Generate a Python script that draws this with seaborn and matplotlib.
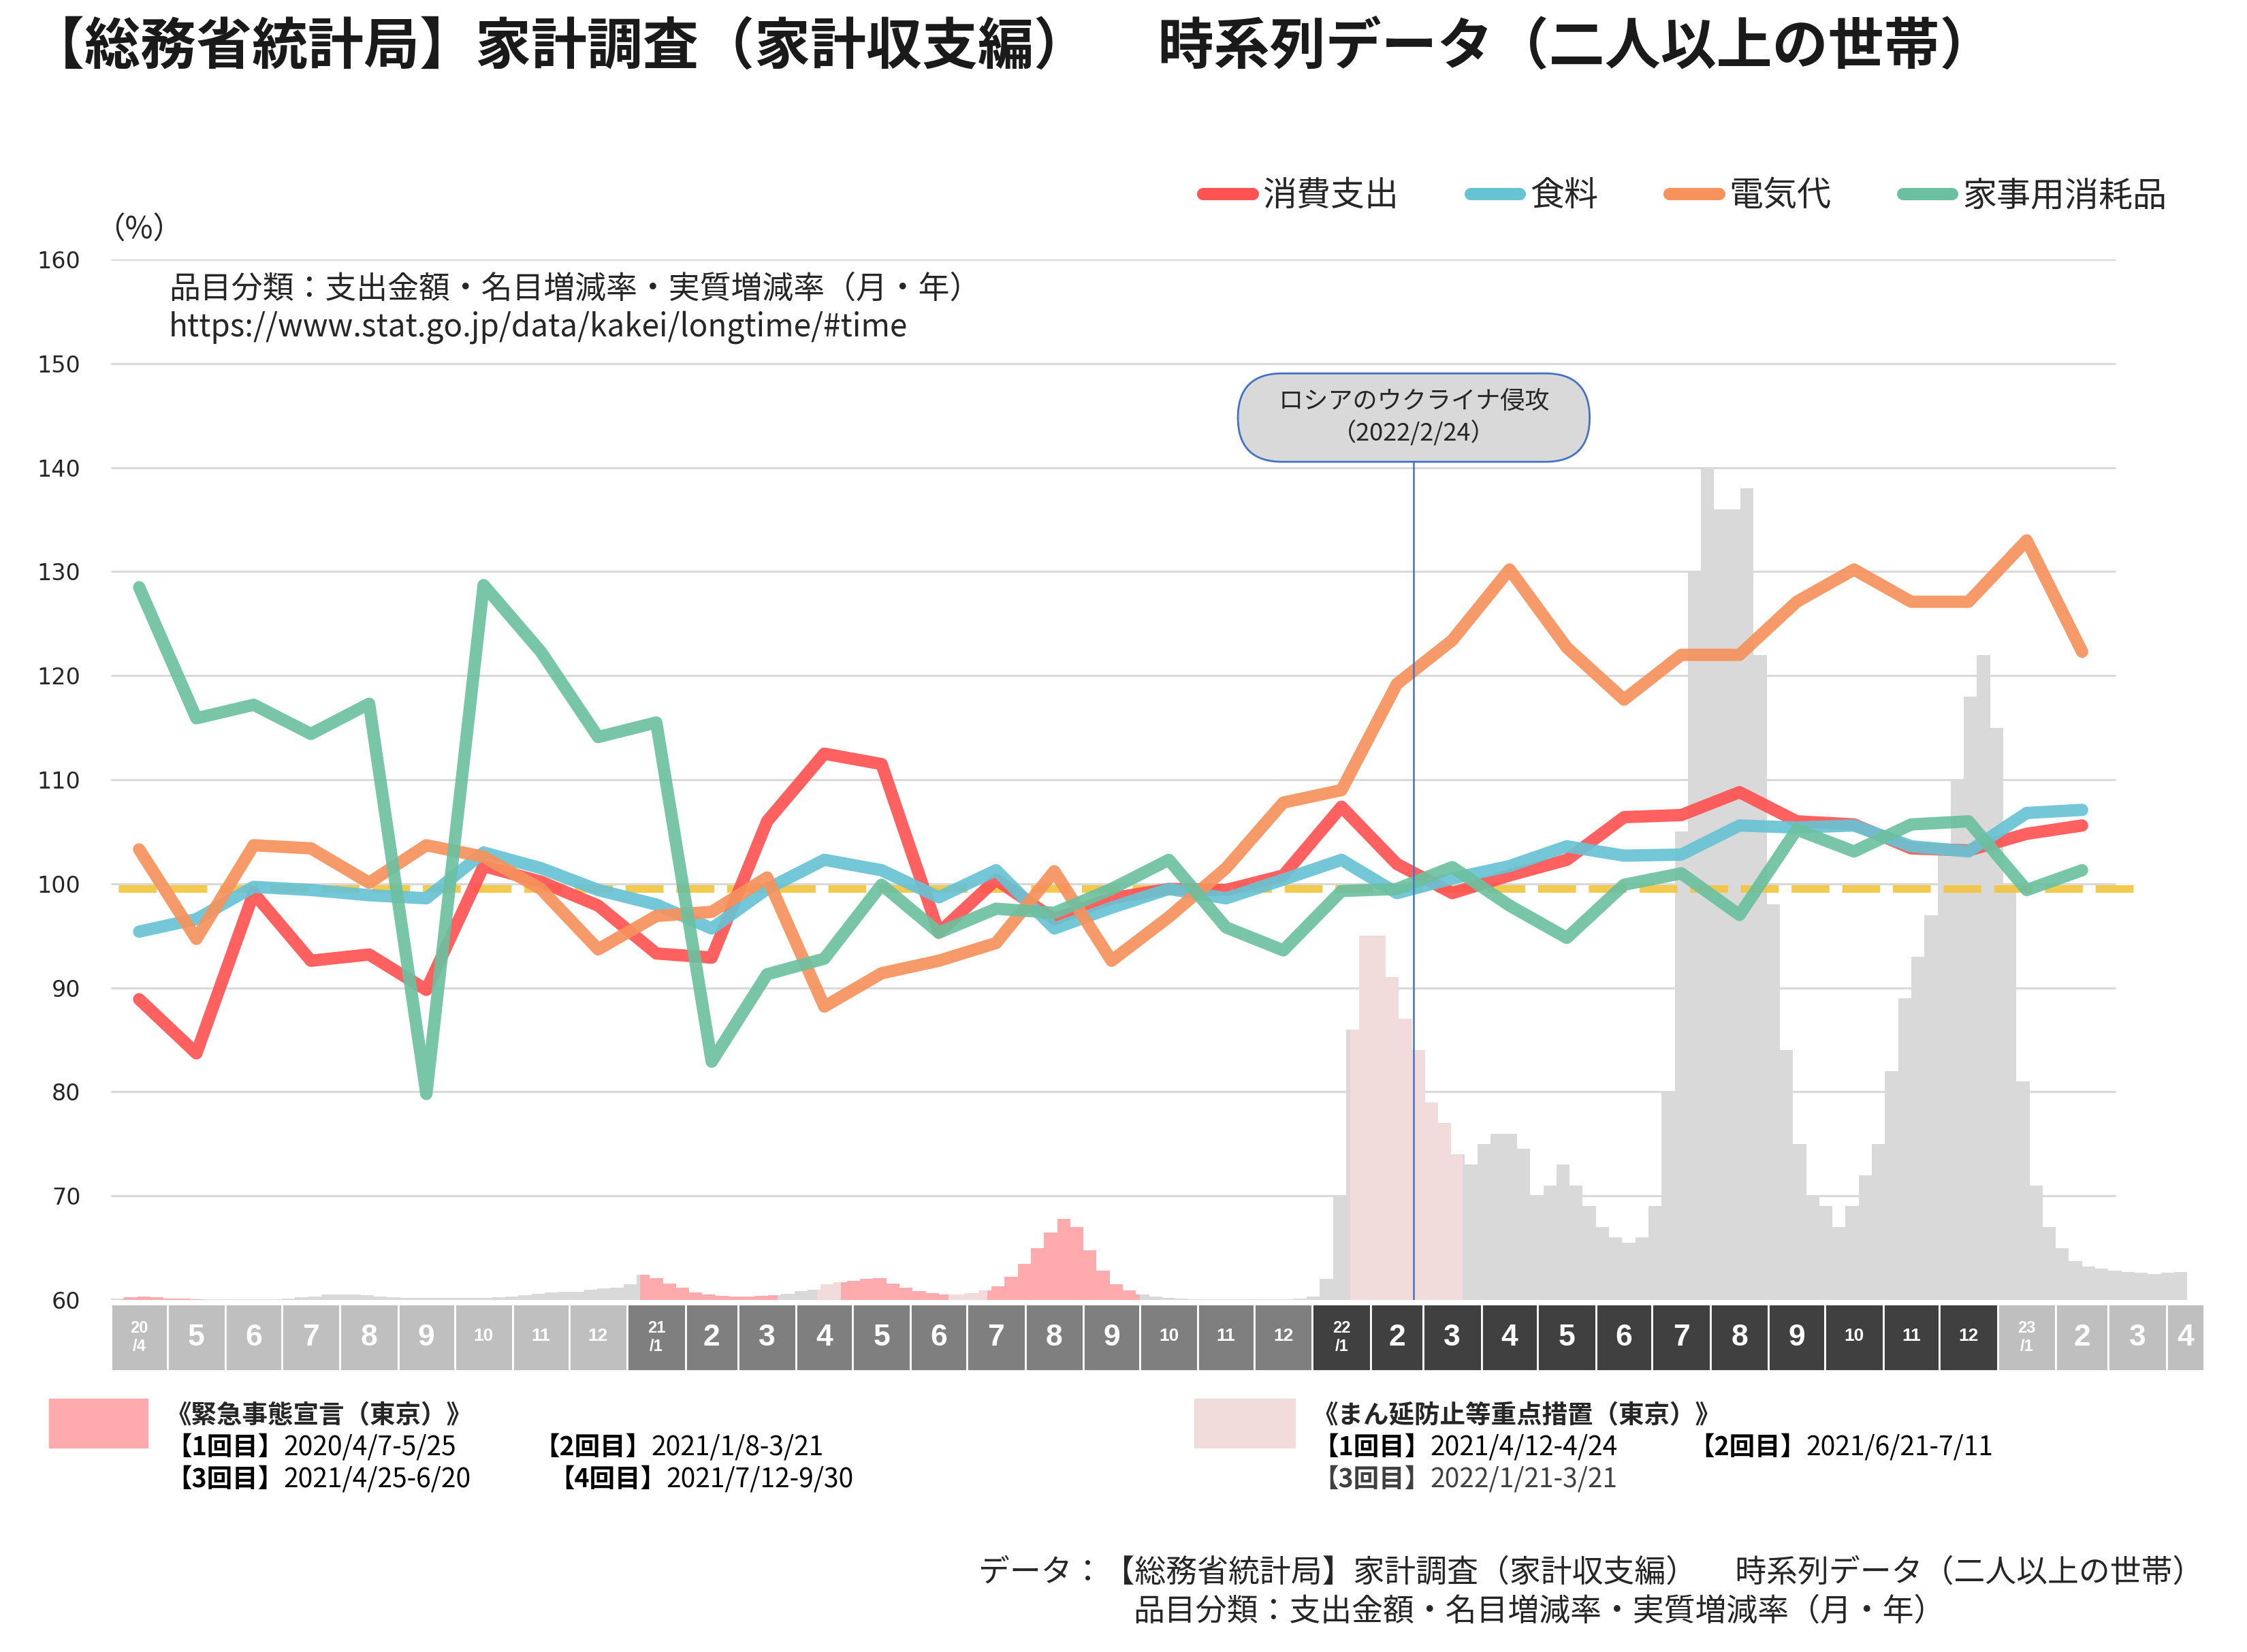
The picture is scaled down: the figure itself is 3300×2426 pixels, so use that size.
import datetime as dt
import numpy as np
import pandas as pd
import matplotlib
matplotlib.use("Agg")
import matplotlib.pyplot as plt
from matplotlib.lines import Line2D
from matplotlib.patches import Rectangle
import seaborn as sns

# ---------------- data ----------------
START = dt.date(2020, 4, 1)

line_months = pd.period_range("2020-04", "2023-02", freq="M")
series_names = ["消費支出", "食料", "電気代", "家事用消耗品"]

consumption = [88.9, 83.7, 99.1, 92.6, 93.2, 89.8, 101.7, 100.2, 97.9, 93.3, 92.9, 106.0,
               112.5, 111.5, 95.3, 100.4, 96.6, 98.6, 99.5, 99.4, 100.8, 107.4, 101.9, 99.1,
               100.8, 102.3, 106.4, 106.6, 108.8, 106.0, 105.7, 103.4, 103.2, 104.8, 105.6]
food = [95.4, 96.6, 99.7, 99.4, 98.9, 98.6, 103.0, 101.5, 99.4, 98.0, 95.7, 99.5,
        102.3, 101.3, 98.7, 101.3, 95.7, 97.7, 99.5, 98.6, 100.4, 102.3, 99.1, 100.5,
        101.7, 103.6, 102.7, 102.8, 105.6, 105.4, 105.6, 103.6, 103.1, 106.8, 107.1]
electricity = [103.3, 94.7, 103.7, 103.4, 100.1, 103.7, 102.6, 99.5, 93.7, 96.9, 97.3, 100.6,
               88.2, 91.4, 92.6, 94.3, 101.2, 92.6, 96.8, 101.5, 107.8, 109.0, 119.2, 123.4,
               130.2, 122.7, 117.7, 122.0, 122.0, 127.1, 130.2, 127.1, 127.1, 133.0, 122.3]
household = [128.5, 115.9, 117.2, 114.4, 117.3, 79.8, 128.7, 122.3, 114.1, 115.5, 82.9, 91.3,
             92.8, 99.9, 95.3, 97.6, 97.2, 99.5, 102.3, 95.8, 93.6, 99.3, 99.5, 101.6,
             97.9, 94.8, 99.9, 101.0, 97.0, 105.2, 103.1, 105.7, 106.0, 99.4, 101.3]

line_colors = {"消費支出": "#FF5252", "食料": "#67C3D4",
               "電気代": "#F7925C", "家事用消耗品": "#6CC0A0"}

# background bars: new-case level per week (height above the 60 baseline), weeks from 2020-04-01
weekly_cases = [
    0.15, 0.25, 0.3, 0.25, 0.15, 0.1, 0.05, 0.03, 0.03, 0.03,
    0.05, 0.05, 0.08, 0.15, 0.25, 0.35, 0.5, 0.55, 0.5, 0.45,
    0.35, 0.28, 0.22, 0.2, 0.18, 0.2, 0.2, 0.22, 0.22, 0.25,
    0.3, 0.45, 0.6, 0.75, 0.8, 0.8, 1.0, 1.1, 1.2, 1.5,
    2.4, 2.1, 1.6, 1.2, 0.75, 0.5, 0.4, 0.35, 0.35, 0.4,
    0.45, 0.6, 0.85, 1.0, 1.5, 1.7, 1.8, 2.0, 2.1, 1.6,
    1.2, 0.85, 0.65, 0.55, 0.55, 0.65, 0.9, 1.3, 2.2, 3.5,
    5.0, 6.5, 7.8, 7.0, 4.8, 2.8, 1.5, 0.9, 0.5, 0.3,
    0.2, 0.1, 0.06, 0.05, 0.05, 0.05, 0.05, 0.05, 0.06, 0.08,
    0.12, 0.3, 2.0, 10.0, 26.0, 35.0, 35.0, 31.0, 27.0, 24.0,
    19.0, 17.0, 14.0, 13.0, 15.0, 16.0, 16.0, 14.5, 10.0, 11.0,
    13.0, 11.0, 9.0, 7.0, 6.0, 5.5, 6.0, 9.0, 20.0, 45.0,
    70.0, 80.0, 76.0, 76.0, 78.0, 62.0, 38.0, 24.0, 15.0, 10.0,
    9.0, 7.0, 9.0, 12.0, 15.0, 22.0, 29.0, 33.0, 37.0, 43.0,
    50.0, 58.0, 62.0, 55.0, 40.0, 21.0, 11.0, 7.0, 5.0, 3.7,
    3.2, 3.0, 2.8, 2.7, 2.6, 2.5, 2.6, 2.7,
]

emergency_periods = [("2020-04-07", "2020-05-25"), ("2021-01-08", "2021-03-21"),
                     ("2021-04-25", "2021-06-20"), ("2021-07-12", "2021-09-30")]
semi_periods = [("2021-04-12", "2021-04-24"), ("2021-06-21", "2021-07-11"),
                ("2022-01-21", "2022-03-21")]

band_months = pd.period_range("2020-04", "2023-04", freq="M")
year_colors = {2020: "#BFBFBF", 2021: "#7F7F7F", 2022: "#404040", 2023: "#BFBFBF"}

invasion_date = "2022-02-24"
baseline_value = 99.5
yticks = list(range(60, 161, 10))

title = "【総務省統計局】家計調査（家計収支編）　 時系列データ（二人以上の世帯）"
subtitle1 = "品目分類：支出金額・名目増減率・実質増減率（月・年）"
subtitle2 = "https://www.stat.go.jp/data/kakei/longtime/#time"
footer1 = "データ：【総務省統計局】家計調査（家計収支編）　 時系列データ（二人以上の世帯）"
footer2 = "品目分類：支出金額・名目増減率・実質増減率（月・年）"

# ---------------- helpers ----------------
W, H = 3300, 2426


def dnum(s):
    return (pd.Timestamp(s).date() - START).days


def fx(px):
    return px / W


def fy(py):
    return 1 - py / H


def day_cat(d):
    for a, b in emergency_periods:
        if dnum(a) <= d <= dnum(b):
            return "em"
    for a, b in semi_periods:
        if dnum(a) <= d <= dnum(b):
            return "semi"
    return "none"


cat_colors = {"em": "#FFABAD", "semi": "#F2DCDB", "none": "#D9D9D9"}

X_END = 1115
GRID_END = dnum("2023-03-05")

# ---------------- figure ----------------
sns.set_theme(style="white")
plt.rcParams["font.family"] = ["Noto Sans CJK JP", "DejaVu Sans"]

fig = plt.figure(figsize=(33, 24.26), dpi=100)
left = fx(163)
width = fx(3237) - fx(163)
ax = fig.add_axes([left, fy(1909), width, fy(381) - fy(1909)])
ax_band = fig.add_axes([left, fy(2013), width, fy(1915) - fy(2013)])

for a in (ax, ax_band):
    a.set_xlim(0, X_END)
    for s in a.spines.values():
        s.set_visible(False)
ax.set_ylim(60, 160)

# grid
ax.hlines(yticks, 0, GRID_END, color="#D9D9D9", lw=2.2, zorder=0)

# background bars (split within week where the period colour changes)
for w, h in enumerate(weekly_cases):
    d0 = 7 * w
    runs = []
    for d in range(d0, d0 + 7):
        c = day_cat(d)
        if runs and runs[-1][2] == c:
            runs[-1][1] = d + 1
        else:
            runs.append([d, d + 1, c])
    for s, e, c in runs:
        ax.bar(s, h, width=e - s, bottom=60, align="edge", color=cat_colors[c],
               linewidth=0, zorder=1)

# baseline dashed
ax.hlines(baseline_value, dnum("2020-04-05"), dnum("2023-03-19"), color="#F2C744",
          lw=8, linestyles=(0, (5, 1.7)), zorder=3, alpha=0.95)

# lines
mids = [dnum(p.start_time) + p.days_in_month / 2 for p in line_months]
df = pd.DataFrame({
    "day": mids * 4,
    "value": consumption + food + electricity + household,
    "series": sum([[n] * len(mids) for n in series_names], []),
})
sns.lineplot(data=df, x="day", y="value", hue="series", hue_order=series_names,
             palette=line_colors, linewidth=13, alpha=0.92, ax=ax, legend=False,
             errorbar=None, zorder=5, solid_capstyle="round", solid_joinstyle="round")

# invasion marker
inv = dnum(invasion_date)
ax.vlines(inv, 60, 140.6, color="#4472C4", lw=1.8, zorder=6)
ax.text(inv, 144.8, "　ロシアのウクライナ侵攻　\n（2022/2/24）", ha="center", va="center",
        fontsize=26, linespacing=1.3, zorder=7,
        bbox=dict(boxstyle="round,pad=0.65,rounding_size=1.8", fc="#D9D9D9",
                  ec="#4472C4", lw=2))

# axes ticks
ax.set_xticks([])
ax.set_yticks(yticks)
ax.set_yticklabels([str(t) for t in yticks], fontfamily="DejaVu Sans", fontsize=24)
ax.tick_params(axis="y", length=0, pad=32)
ax.set_xlabel("")
ax.set_ylabel("")

# month band
ax_band.set_ylim(0, 1)
ax_band.set_xticks([])
ax_band.set_yticks([])
for p in band_months:
    s = dnum(p.start_time)
    e = min(dnum((p + 1).start_time), X_END)
    ax_band.bar(s, 1, width=e - s, bottom=0, align="edge", color=year_colors[p.year],
                edgecolor="white", linewidth=2)
    mid = (s + e) / 2
    if p.month == 1 or (p.year == 2020 and p.month == 4):
        ax_band.text(mid, 0.5, f"{p.year % 100}\n/{p.month}", ha="center", va="center",
                     color="white", fontsize=17, fontweight="bold", linespacing=1.2,
                     family="Liberation Sans")
    elif p.month >= 10:
        ax_band.text(mid, 0.52, str(p.month), ha="center", va="center", color="white",
                     fontsize=19, fontweight="bold", family="Liberation Sans")
    else:
        ax_band.text(mid, 0.5, str(p.month), ha="center", va="center", color="white",
                     fontsize=32, fontweight="bold", family="Liberation Sans")

# texts
fig.text(fx(42), fy(70), title, fontsize=59, fontweight="bold", va="center", color="#1a1a1a")
fig.text(fx(139), fy(337), "（%）", fontsize=32, va="center")
fig.text(fx(248), fy(424), subtitle1, fontsize=33, va="center")
fig.text(fx(248), fy(481), subtitle2, fontsize=33, va="center")

handles = [Line2D([0], [0], color=line_colors[n], lw=13, solid_capstyle="round")
           for n in series_names]
fig.legend(handles, series_names, loc="center right", bbox_to_anchor=(fx(3182), fy(288)),
           ncol=4, frameon=False, fontsize=36, handlelength=1.45, handletextpad=0.3,
           columnspacing=2.1, borderaxespad=0, borderpad=0)

fig.text(fx(3236), fy(2309), footer1, fontsize=33, ha="right", va="center")
fig.text(fx(1664), fy(2366), footer2, fontsize=33, ha="left", va="center")

# bottom legends
fig.patches.append(Rectangle((fx(72), fy(2126)), fx(217) - fx(72), fy(2054) - fy(2126),
                             transform=fig.transFigure, color="#FFABAD"))
fig.patches.append(Rectangle((fx(1754), fy(2126)), fx(1902) - fx(1754), fy(2054) - fy(2126),
                             transform=fig.transFigure, color="#F2DCDB"))

renderer = fig.canvas.get_renderer()


def rich(xp, yp, bold, normal, color="black", size=27):
    t = fig.text(fx(xp), fy(yp), bold, fontsize=size, fontweight="bold",
                 va="center_baseline", color=color)
    bb = t.get_window_extent(renderer)
    fig.text(bb.x1 / W, fy(yp), normal, fontsize=size + 1, va="center_baseline", color=color)


fig.text(fx(244), fy(2075), "《緊急事態宣言（東京）》", fontsize=27, fontweight="bold",
         va="center_baseline")
rich(244, 2121, "【1回目】", "2020/4/7-5/25")
rich(784, 2121, "【2回目】", "2021/1/8-3/21")
rich(244, 2168, "【3回目】", "2021/4/25-6/20")
rich(806, 2168, "【4回目】", "2021/7/12-9/30")

fig.text(fx(1928), fy(2075), "《まん延防止等重点措置（東京）》", fontsize=27, fontweight="bold",
         va="center_baseline")
rich(1928, 2121, "【1回目】", "2021/4/12-4/24")
rich(2480, 2121, "【2回目】", "2021/6/21-7/11")
rich(1928, 2168, "【3回目】", "2022/1/21-3/21", color="#404040")

fig.savefig("out.png", dpi=100, facecolor="white")
